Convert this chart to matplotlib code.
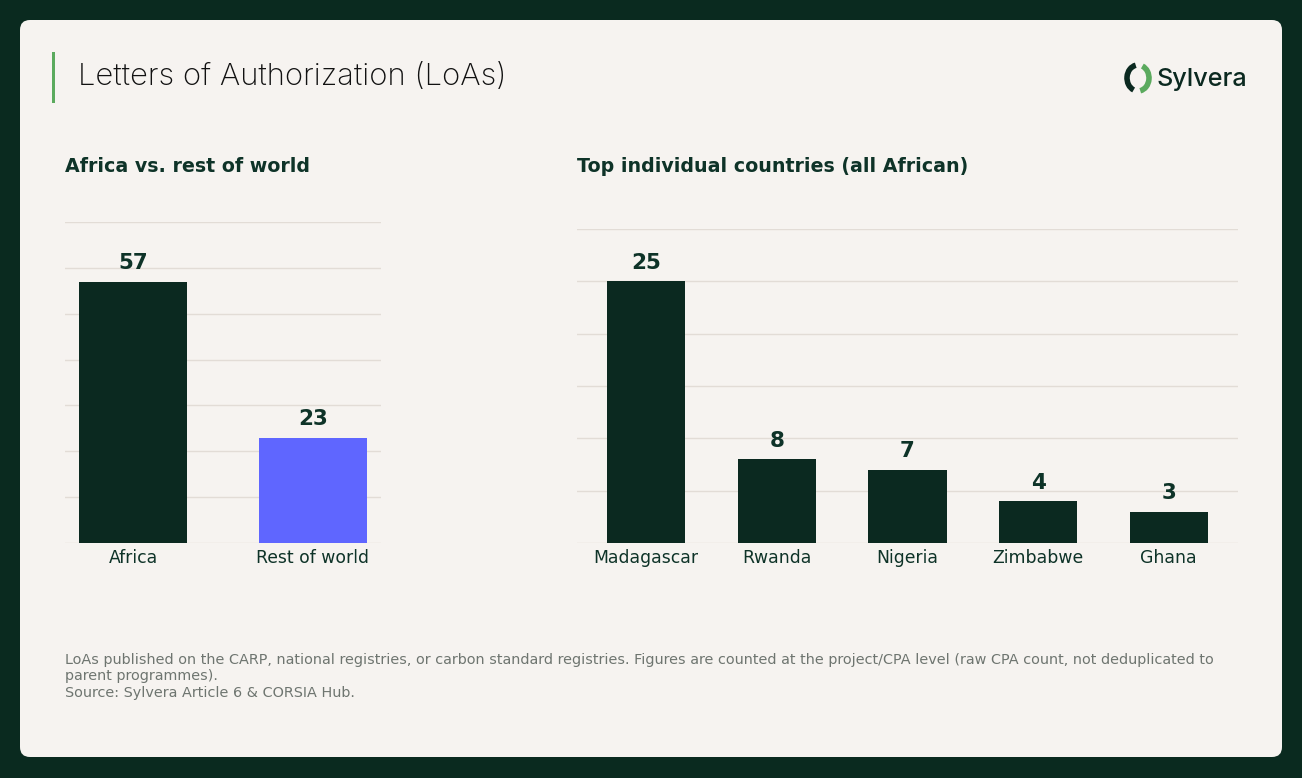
import matplotlib
matplotlib.use("Agg")
import matplotlib.pyplot as plt
from matplotlib.patches import FancyBboxPatch, Rectangle, Arc

plt.rcParams["font.family"] = ["DejaVu Sans"]

# data
region_labels = ["Africa", "Rest of world"]
region_values = [57, 23]
country_labels = ["Madagascar", "Rwanda", "Nigeria", "Zimbabwe", "Ghana"]
country_values = [25, 8, 7, 4, 3]

DARK = "#0B2920"
BLUE = "#5F66FF"
GREEN = "#5BAA5E"
TEXT = "#0E3328"
GRID = "#E2DCD6"
CARD = "#F6F3F0"
OUTER = "#0A2A1F"
FOOT = "#6E7570"

W, H = 1302, 778
fig = plt.figure(figsize=(W / 100, H / 100), dpi=100, facecolor=OUTER)

# background layer in pixel coordinates
bg = fig.add_axes([0, 0, 1, 1], zorder=-10)
bg.set_xlim(0, W)
bg.set_ylim(H, 0)
bg.axis("off")
bg.add_patch(FancyBboxPatch((20, 20), 1262, 737, boxstyle="round,pad=0,rounding_size=10",
                            facecolor=CARD, edgecolor="none"))
bg.add_patch(Rectangle((52, 52), 3, 51, facecolor=GREEN, edgecolor="none"))
bg.text(78, 77, "Letters of Authorization (LoAs)", fontsize=22.3, family=["Inter", "DejaVu Sans"],
        fontweight="light", color="#111111", va="center", ha="left")

# logo
bg.add_patch(Arc((1138, 78), 22, 26, theta1=110, theta2=260, color=DARK, lw=4))
bg.add_patch(Arc((1138, 78), 22, 26, theta1=-70, theta2=80, color=GREEN, lw=4))
bg.text(1157, 79, "Sylvera", fontsize=18.2, family=["Inter", "DejaVu Sans"],
        fontweight="medium", color=DARK, va="center", ha="left")

# subtitles
bg.text(65, 166, "Africa vs. rest of world", fontsize=13.7, fontweight="bold",
        color=TEXT, va="center", ha="left")
bg.text(577, 166, "Top individual countries (all African)", fontsize=13.7, fontweight="bold",
        color=TEXT, va="center", ha="left")

# footnote
foot = ("LoAs published on the CARP, national registries, or carbon standard registries. "
        "Figures are counted at the project/CPA level (raw CPA count, not deduplicated to\n"
        "parent programmes).\nSource: Sylvera Article 6 & CORSIA Hub.")
bg.text(65, 653, foot, fontsize=10.35, color=FOOT, va="top", ha="left", linespacing=1.22)


def style_axis(ax, top, step):
    ax.set_facecolor("none")
    ax.set_ylim(0, top)
    ax.set_yticks(range(0, top + 1, step))
    ax.yaxis.grid(True, color=GRID, lw=1)
    ax.set_axisbelow(True)
    for s in ax.spines.values():
        s.set_visible(False)
    ax.tick_params(axis="y", left=False, labelleft=False)
    ax.tick_params(axis="x", bottom=False, labelsize=12.4, labelcolor=TEXT, pad=1)


ax1 = fig.add_axes([65 / W, 1 - 543 / H, 316 / W, 321 / H])
bars = ax1.bar(region_labels, region_values, width=0.6, color=[DARK, BLUE])
style_axis(ax1, 70, 10)
for b, v in zip(bars, region_values):
    ax1.annotate(str(v), (b.get_x() + b.get_width() / 2, v), xytext=(0, 6),
                 textcoords="offset points", ha="center", va="bottom",
                 fontsize=15.5, fontweight="bold", color=TEXT)

ax2 = fig.add_axes([577 / W, 1 - 543 / H, 661 / W, 314 / H])
bars = ax2.bar(country_labels, country_values, width=0.6, color=DARK)
style_axis(ax2, 30, 5)
for b, v in zip(bars, country_values):
    ax2.annotate(str(v), (b.get_x() + b.get_width() / 2, v), xytext=(0, 6),
                 textcoords="offset points", ha="center", va="bottom",
                 fontsize=15.5, fontweight="bold", color=TEXT)

fig.savefig("out.png", dpi=100, facecolor=OUTER)
